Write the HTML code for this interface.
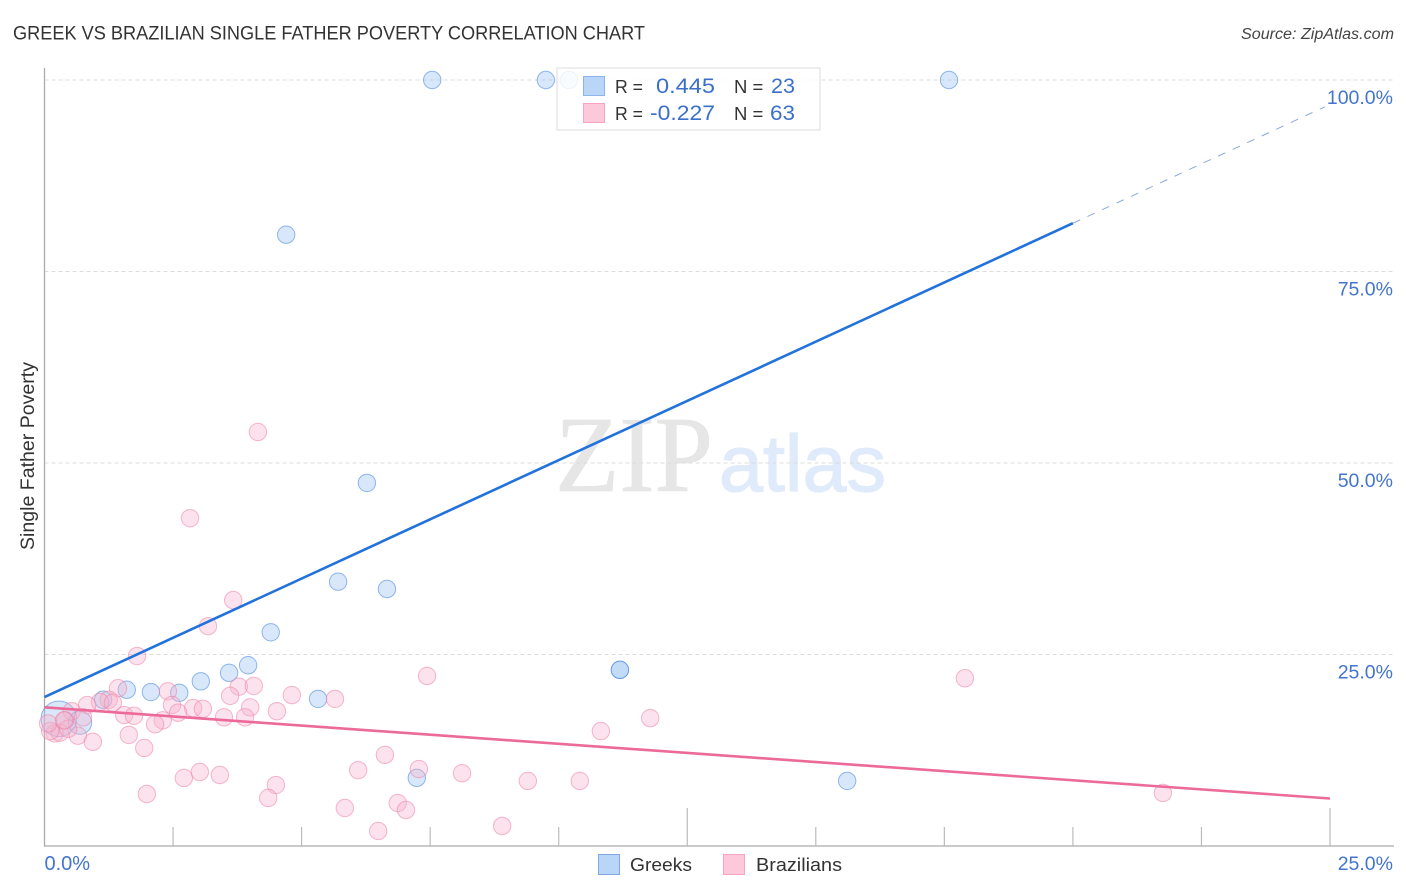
<!DOCTYPE html>
<html lang="en">
<head>
<meta charset="utf-8">
<title>Greek vs Brazilian Single Father Poverty Correlation Chart</title>
<style>
html,body{margin:0;padding:0;background:#fff;width:1406px;height:892px;overflow:hidden}
svg{display:block;font-family:"Liberation Sans",sans-serif}
</style>
</head>
<body>
<svg id="chart" xmlns="http://www.w3.org/2000/svg" width="1406" height="892" viewBox="0 0 1406 892">
  <text x="13" y="39.5" font-size="19" fill="#333" textLength="632" lengthAdjust="spacingAndGlyphs">GREEK VS BRAZILIAN SINGLE FATHER POVERTY CORRELATION CHART</text>
  <text x="1241" y="39" font-size="15.5" font-style="italic" fill="#444" textLength="153" lengthAdjust="spacingAndGlyphs">Source: ZipAtlas.com</text>
  <g id="watermark">
    <text x="555" y="491" font-family="'Liberation Serif',serif" font-size="108" fill="#e6e6e6" stroke="#e6e6e6" stroke-width="0.8" textLength="158" lengthAdjust="spacingAndGlyphs">ZIP</text>
    <text x="719" y="491" font-size="80" fill="#dfeafa" stroke="#dfeafa" stroke-width="1.2" textLength="167" lengthAdjust="spacingAndGlyphs">atlas</text>
  </g>
  <g id="grid"></g>
  <g id="axes"></g>
  <g id="points"></g>
  <g id="trends"></g>
  <g id="ylabels"></g>
  <g id="xlabels"></g>
  <text transform="translate(34,456) rotate(-90)" font-size="19" fill="#333" text-anchor="middle" textLength="188" lengthAdjust="spacingAndGlyphs">Single Father Poverty</text>

  <g>
    <rect x="557" y="68" width="263" height="62" fill="#fff" fill-opacity="0.84" stroke="#ddd" stroke-width="1"/>
    <rect x="583.5" y="76.5" width="21" height="19" fill="#b9d5f8" stroke="#8db4ea"/>
    <rect x="583.5" y="103.5" width="21" height="19" fill="#fcc8da" stroke="#f5a5c0"/>
    <text x="615" y="93" font-size="18.5" fill="#333" textLength="28" lengthAdjust="spacingAndGlyphs">R =</text>
    <text x="656" y="93" font-size="21.5" fill="#3b6fc9" textLength="59" lengthAdjust="spacingAndGlyphs">0.445</text>
    <text x="734" y="93" font-size="18.5" fill="#333">N =</text>
    <text x="771" y="93" font-size="21.5" fill="#3b6fc9" textLength="24" lengthAdjust="spacingAndGlyphs">23</text>
    <text x="615" y="120" font-size="18.5" fill="#333" textLength="28" lengthAdjust="spacingAndGlyphs">R =</text>
    <text x="650" y="120" font-size="21.5" fill="#3b6fc9" textLength="65" lengthAdjust="spacingAndGlyphs">-0.227</text>
    <text x="734" y="120" font-size="18.5" fill="#333">N =</text>
    <text x="770" y="120" font-size="21.5" fill="#3b6fc9" textLength="25" lengthAdjust="spacingAndGlyphs">63</text>
  </g>

  <g>
    <rect x="598.5" y="854.5" width="21" height="20" fill="#b9d5f8" stroke="#7fa8e0"/>
    <text x="630" y="871" font-size="18.5" fill="#333" textLength="62" lengthAdjust="spacingAndGlyphs">Greeks</text>
    <rect x="723.5" y="854.5" width="21" height="20" fill="#fcc8da" stroke="#f5a5c0"/>
    <text x="756" y="871" font-size="18.5" fill="#333" textLength="86" lengthAdjust="spacingAndGlyphs">Brazilians</text>
  </g>
</svg>
<script>
const xTickValues = [0, 2.5, 5, 7.5, 10, 12.5, 15, 17.5, 20, 22.5, 25];
const xLabelValues = ["0.0%", "25.0%"];
const xLabelPositions = [0, 25];
const yTickValues = [100, 75, 50, 25];
const yTickLabels = ["100.0%", "75.0%", "50.0%", "25.0%"];

const greekX = [7.54, 9.75, 10.2, 17.59, 4.70, 6.27, 5.71, 6.66, 4.40, 11.19, 11.19, 3.96, 3.59, 3.04, 2.62, 2.07, 1.60, 1.14, 5.32, 7.24, 15.61, 0.28, 0.69];
const greekY = [100, 100, 100, 100, 79.8, 47.4, 34.5, 33.55, 27.9, 23.0, 23.0, 23.6, 22.6, 21.5, 20.0, 20.1, 20.4, 19.1, 19.2, 8.9, 8.5, 16.6, 16.1];
const greekWeight = [1, 1, 1, 1, 1, 1, 1, 1, 1, 1, 1, 1, 1, 1, 1, 1, 1, 1, 1, 1, 1, 4.2, 1.8];

const brazilianX = [4.15, 2.83, 3.67, 3.18, 1.80, 7.44, 17.90, 1.43, 2.40, 3.78, 4.07, 3.61, 4.81, 5.65, 1.25, 1.08, 0.83, 1.33, 0.53, 4.00, 2.89, 3.08, 2.48, 4.52, 1.55, 1.74, 2.60, 3.49, 3.90, 2.30, 2.15, 0.75, 0.40, 10.82, 11.78, 1.64, 0.65, 0.94, 1.94, 6.62, 6.10, 7.28, 8.12, 3.02, 3.41, 2.71, 4.50, 9.40, 10.41, 1.99, 4.35, 5.84, 6.87, 7.03, 8.90, 6.49, 21.75, 0.20, 0.30, 0.11, 0.46, 0.07, 0.38];
const brazilianY = [54.05, 42.8, 32.1, 28.7, 24.8, 22.2, 21.9, 20.6, 20.2, 20.8, 20.9, 19.6, 19.7, 19.2, 19.1, 18.8, 18.4, 18.7, 17.6, 18.1, 18.0, 17.9, 18.4, 17.6, 17.1, 17.0, 17.4, 16.8, 16.8, 16.4, 15.9, 16.8, 16.4, 15.0, 16.7, 14.5, 14.4, 13.6, 12.8, 11.9, 9.9, 10.05, 9.5, 9.66, 9.27, 8.88, 7.96, 8.49, 8.49, 6.79, 6.27, 4.96, 5.61, 4.70, 2.61, 1.96, 6.92, 14.7, 14.8, 15.0, 15.3, 16.0, 16.4];

const greekTrendX = [0, 20];
const greekTrendY = [19.45, 81.3];
const greekTrendExtensionX = [20, 24.9];
const greekTrendExtensionY = [81.3, 96.5];
const brazilianTrendX = [0, 25];
const brazilianTrendY = [18.1, 6.2];

const NS = 'http://www.w3.org/2000/svg';
const xScale = v => 44.5 + v * 51.42;
const yScale = v => 846 - v * 7.66;
const BASE_R = 8.7;

function make(tag, attrs, parent) {
  const el = document.createElementNS(NS, tag);
  for (const k in attrs) el.setAttribute(k, attrs[k]);
  parent.appendChild(el);
  return el;
}

const gridG = document.getElementById('grid');
yTickValues.forEach(v => {
  const l = make('line', {x1: 44.5, x2: 1393, y1: yScale(v), y2: yScale(v), stroke: '#dcdcdc', 'stroke-width': 1, 'stroke-dasharray': '4 3'}, gridG);
  
  
});

const axesG = document.getElementById('axes');
const yAxis = make('line', {x1: 44.5, x2: 44.5, y1: 68, y2: 846.5, stroke: '#aaa', 'stroke-width': 1.3}, axesG);


const xAxis = make('line', {x1: 44, x2: 1394, y1: 846, y2: 846, stroke: '#aaa', 'stroke-width': 1.3}, axesG);


xTickValues.forEach(v => {
  if (v === 0) return;
  const top = (v === 12.5 || v === 25) ? 808 : 827;
  const t = make('line', {x1: xScale(v), x2: xScale(v), y1: top, y2: 846, stroke: '#bbb', 'stroke-width': 1.2}, axesG);
  
  
});

const ptsG = document.getElementById('points');
greekX.forEach((x, i) => {
  const c = make('circle', {cx: xScale(x), cy: yScale(greekY[i]), r: BASE_R * Math.sqrt(greekWeight[i]), fill: '#a9cbf5', 'fill-opacity': 0.45, stroke: '#4f8be0', 'stroke-opacity': 0.6, 'stroke-width': 1}, ptsG);
  
  
});
brazilianX.forEach((x, i) => {
  const c = make('circle', {cx: xScale(x), cy: yScale(brazilianY[i]), r: BASE_R, fill: '#f8b4cc', 'fill-opacity': 0.38, stroke: '#ec7fa3', 'stroke-opacity': 0.55, 'stroke-width': 1}, ptsG);
  
  
});

const trendsG = document.getElementById('trends');
const blueTrend = make('line', {x1: xScale(greekTrendX[0]), y1: yScale(greekTrendY[0]), x2: xScale(greekTrendX[1]), y2: yScale(greekTrendY[1]), stroke: '#2272dc', 'stroke-width': 2.6}, trendsG);


const blueExt = make('line', {x1: xScale(greekTrendExtensionX[0]), y1: yScale(greekTrendExtensionY[0]), x2: xScale(greekTrendExtensionX[1]), y2: yScale(greekTrendExtensionY[1]), stroke: '#8aa9dc', 'stroke-width': 1, 'stroke-dasharray': '8 8'}, trendsG);


const pinkTrend = make('line', {x1: xScale(brazilianTrendX[0]), y1: yScale(brazilianTrendY[0]), x2: xScale(brazilianTrendX[1]), y2: yScale(brazilianTrendY[1]), stroke: '#ec6a98', 'stroke-width': 2.6}, trendsG);



const yLabG = document.getElementById('ylabels');
yTickValues.forEach((v, i) => {
  const t = make('text', {x: 1393, y: yScale(v) + 24, 'font-size': 19.5, fill: '#4375cc', 'text-anchor': 'end'}, yLabG);
  
  
  t.textContent = yTickLabels[i];
});

const xLabG = document.getElementById('xlabels');
xLabelValues.forEach((s, i) => {
  const atStart = xLabelPositions[i] === 0;
  const t = make('text', {x: atStart ? xScale(xLabelPositions[i]) : 1393, y: 870, 'font-size': atStart ? 20 : 19.5, fill: '#4375cc', 'text-anchor': atStart ? 'start' : 'end'}, xLabG);
  
  
  t.textContent = s;
});
</script>
</body>
</html>
